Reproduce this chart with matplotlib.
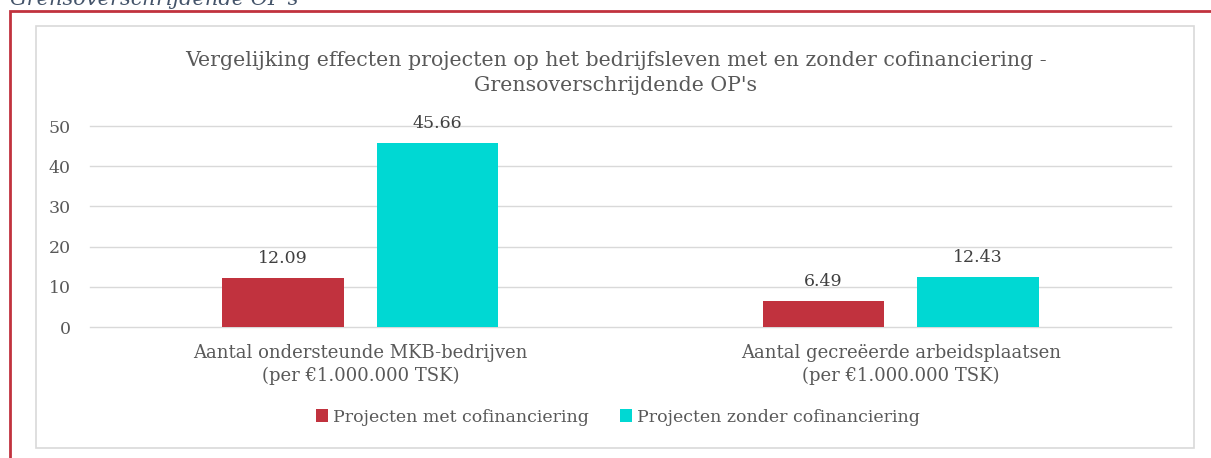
import matplotlib.pyplot as plt
import numpy as np
from matplotlib.patches import Rectangle

categories = ['Aantal ondersteunde MKB-bedrijven\n(per €1.000.000 TSK)',
              'Aantal gecreëerde arbeidsplaatsen\n(per €1.000.000 TSK)']
series_names = ['Projecten met cofinanciering', 'Projecten zonder cofinanciering']
met_cof = [12.09, 6.49]
zonder_cof = [45.66, 12.43]
yticks = [0, 10, 20, 30, 40, 50]

colors = ['#C1323E', '#00D8D3']
text_color = '#595959'
W, H = 1211, 458

plt.rcParams['font.family'] = ['DejaVu Serif']
fig = plt.figure(figsize=(W / 100, H / 100), dpi=100)

# cut-off caption above the frame
fig.text(10 / W, 1 - 5 / H, "Grensoverschrijdende OP's", color='#44546A',
         fontsize=15, style='italic', ha='left', va='baseline')

# red outer frame and grey inner chart border
fig.patches.append(Rectangle((10 / W, -0.1), 1.2, 1 - 11 / H + 0.1,
                             transform=fig.transFigure, fill=False,
                             edgecolor='#C1323E', linewidth=2))
fig.patches.append(Rectangle((36 / W, 1 - 448 / H), (1194 - 36) / W,
                             (448 - 26) / H, transform=fig.transFigure,
                             fill=False, edgecolor='#D9D9D9', linewidth=1.2))

ax = fig.add_axes([90 / W, 1 - 327 / H, (1171 - 90) / W, (327 - 126) / H])
x = np.arange(len(categories))
width = 0.225
off = 0.143
b1 = ax.bar(x - off, met_cof, width, color=colors[0], label=series_names[0])
b2 = ax.bar(x + off, zonder_cof, width, color=colors[1], label=series_names[1])
for bars in (b1, b2):
    for rect in bars:
        v = rect.get_height()
        ax.annotate(f'{v:.2f}', (rect.get_x() + rect.get_width() / 2, v),
                    xytext=(0, 8), textcoords='offset points',
                    ha='center', va='bottom', fontsize=12.5, color='#404040')

ax.set_xlim(-0.5, 1.5)
ax.set_ylim(0, 50)
ax.set_yticks(yticks)
ax.set_xticks(x)
ax.set_xticklabels(categories, fontsize=13, color=text_color, linespacing=1.35)
ax.tick_params(axis='y', labelsize=12.5, labelcolor=text_color, length=0, pad=14)
ax.tick_params(axis='x', length=0, pad=12)
ax.grid(axis='y', color='#D9D9D9', linewidth=1)
for gl in ax.get_ygridlines():
    gl.set_clip_on(False)
ax.set_axisbelow(True)
for s in ax.spines.values():
    s.set_visible(False)

fig.text(616 / W, 1 - 73 / H,
         "Vergelijking effecten projecten op het bedrijfsleven met en zonder cofinanciering -\nGrensoverschrijdende OP's",
         ha='center', va='center', fontsize=14.8, color=text_color,
         linespacing=1.45)

fig.legend(handles=[b1, b2], loc='center', bbox_to_anchor=(618 / W, 1 - 417 / H),
           ncol=2, frameon=False, fontsize=12.5, labelcolor=text_color,
           handlelength=0.7, handleheight=0.7, handletextpad=0.3,
           columnspacing=1.8)

fig.savefig('out.png', dpi=100)
